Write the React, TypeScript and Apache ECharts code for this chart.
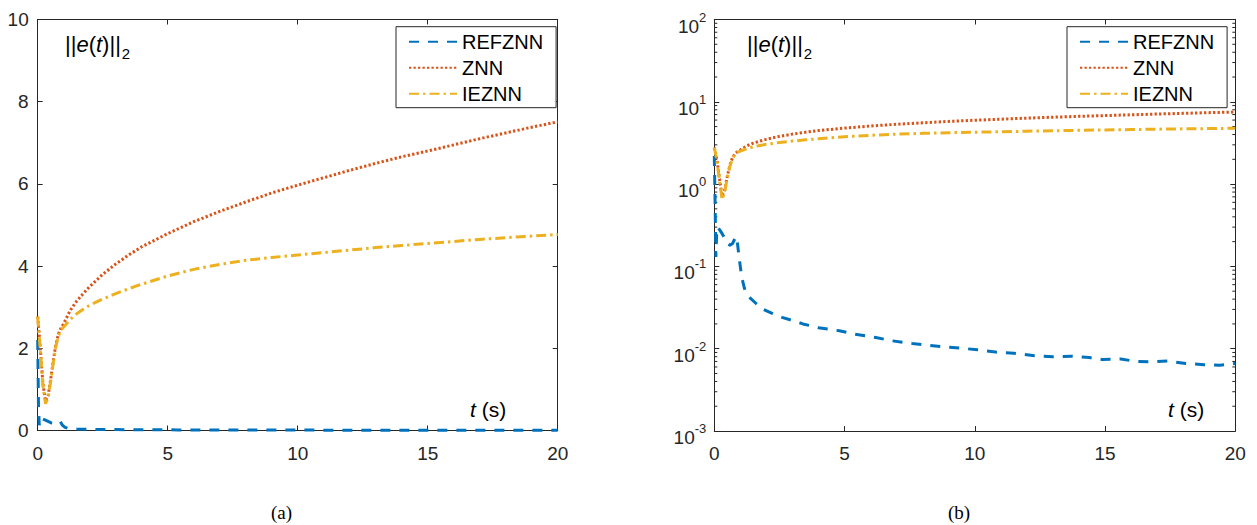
import React, { useEffect, useRef } from 'react';
import * as echarts from 'echarts';

// ---- data ----
const tMain = [0, 0.1, 0.2, 0.3, 0.4, 0.5, 0.6, 0.7, 0.8, 0.9, 1.0, 1.25, 1.5, 1.75, 2, 2.5, 3, 3.5, 4, 5, 6, 7, 8, 9, 10, 11, 12, 13, 14, 15, 16, 17, 18, 19, 20];
const znn = [2.77, 2.0, 1.15, 0.72, 0.85, 1.25, 1.7, 2.1, 2.35, 2.5, 2.6, 2.92, 3.15, 3.33, 3.5, 3.8, 4.05, 4.27, 4.47, 4.79, 5.08, 5.33, 5.56, 5.78, 5.97, 6.15, 6.33, 6.5, 6.66, 6.8, 6.95, 7.1, 7.24, 7.38, 7.51];
const ieznn = [2.77, 1.95, 1.1, 0.65, 0.8, 1.2, 1.65, 2.05, 2.3, 2.45, 2.52, 2.7, 2.84, 2.95, 3.05, 3.2, 3.33, 3.45, 3.56, 3.76, 3.92, 4.04, 4.14, 4.21, 4.27, 4.33, 4.39, 4.45, 4.5, 4.55, 4.6, 4.65, 4.69, 4.73, 4.77];
const tRef = [0, 0.03, 0.06, 0.1, 0.2, 0.3, 0.4, 0.5, 0.6, 0.7, 0.8, 0.86, 0.95, 1.05, 1.15, 1.25, 1.5, 1.8, 2.2, 2.6, 3.0, 3.4, 4.0, 4.8, 5.4, 6.2, 6.8, 7.6, 8.1, 8.7, 9.4, 10.1, 10.8, 11.5, 12.3, 13.0, 13.7, 14.4, 14.9, 15.6, 16.2, 16.8, 17.4, 18.1, 18.8, 19.4, 20];
const refznn = [2.2, 0.6, 0.13, 0.3, 0.28, 0.25, 0.22, 0.19, 0.18, 0.19, 0.22, 0.23, 0.13, 0.075, 0.055, 0.045, 0.038, 0.031, 0.027, 0.024, 0.022, 0.02, 0.018, 0.0165, 0.015, 0.0137, 0.0125, 0.0116, 0.0111, 0.0106, 0.0102, 0.0097, 0.0091, 0.0088, 0.0082, 0.008, 0.0081, 0.0078, 0.0074, 0.0075, 0.007, 0.0069, 0.0071, 0.0066, 0.0064, 0.0063, 0.0066];
const seriesNames = ['REFZNN', 'ZNN', 'IEZNN'];
const panelLabels = ['(a)', '(b)'];
const logDecades = [-3, -2, -1, 0, 1];
const minorMultipliers = [2, 3, 4, 5, 6, 7, 8, 9];
const minorTicks: number[] = [];
logDecades.forEach((k) => minorMultipliers.forEach((m) => minorTicks.push(Number((m * Math.pow(10, k)).toPrecision(3)))));

const FONT = "'Liberation Sans', Arial, Helvetica, sans-serif";
const SERIF = "'Liberation Serif', 'Times New Roman', serif";
const AX = '#262626';
const COLORS = ['#0072BD', '#D95319', '#EDB120'];
const DASHES: any[] = [[10, 9], [2.3, 2.2], [10, 4, 2.5, 4]];

const grids = [
  { left: 37.7, top: 19.5, width: 520, height: 411 },
  { left: 714.3, top: 19.5, width: 521, height: 411.5 },
];

function xAxis(gridIndex: number, position: string, showLabel: boolean) {
  return {
    type: 'value', gridIndex, position, min: 0, max: 20, interval: 5,
    axisLine: { show: true, onZero: false, lineStyle: { color: AX, width: 1 } },
    axisTick: { show: true, inside: true, length: 5, lineStyle: { color: AX, width: 1 } },
    axisLabel: { show: showLabel, margin: 13, color: AX, fontSize: 19, fontFamily: FONT },
    splitLine: { show: false },
  };
}

function yLin(position: string, showLabel: boolean) {
  return {
    type: 'value', gridIndex: 0, position, min: 0, max: 10, interval: 2,
    axisLine: { show: true, onZero: false, lineStyle: { color: AX, width: 1 } },
    axisTick: { show: true, inside: true, length: 5, lineStyle: { color: AX, width: 1 } },
    axisLabel: { show: showLabel, margin: 9, color: AX, fontSize: 19, fontFamily: FONT },
    splitLine: { show: false },
  };
}

function yLog(position: string, showLabel: boolean) {
  return {
    type: 'log', logBase: 10, gridIndex: 1, position, min: 0.001, max: 100, splitNumber: 5,
    axisLine: { show: true, onZero: false, lineStyle: { color: AX, width: 1 } },
    axisTick: { show: true, inside: true, length: 5, lineStyle: { color: AX, width: 1 } },
    axisLabel: {
      show: showLabel, margin: 8, color: AX, fontFamily: FONT,
      formatter: (v: number) => `{b|10}{s|${Math.round(Math.log10(v))}}`,
      rich: {
        b: { fontSize: 19, fontFamily: FONT, color: AX, lineHeight: 32, padding: [13, 0, 0, 0], verticalAlign: 'top' },
        s: { fontSize: 13, fontFamily: FONT, color: AX, lineHeight: 20, padding: [7, 0, 0, 0], verticalAlign: 'top' },
      },
    },
    splitLine: { show: false },
  };
}

function lineSeries(idx: number, gridIdx: number, ts: number[], vs: number[]) {
  return {
    type: 'line', name: seriesNames[idx], xAxisIndex: gridIdx * 2, yAxisIndex: gridIdx * 2,
    data: ts.map((t, i) => [t, vs[i]]), showSymbol: false, symbol: 'none',
    lineStyle: { color: COLORS[idx], width: 3, type: DASHES[idx] },
    itemStyle: { color: COLORS[idx] },
    z: 2 + idx,
  };
}

const richTitle = {
  n: { fontSize: 22, fontFamily: FONT, fill: '#000', verticalAlign: 'top' },
  i: { fontSize: 22, fontFamily: FONT, fontStyle: 'italic', fill: '#000', verticalAlign: 'top' },
  sub: { fontSize: 15, fontFamily: FONT, fill: '#000', padding: [13, 0, 0, 1], verticalAlign: 'top' },
};
const richT = {
  n: { fontSize: 21, fontFamily: FONT, fill: '#000', verticalAlign: 'top' },
  i: { fontSize: 21, fontFamily: FONT, fontStyle: 'italic', fill: '#000', verticalAlign: 'top' },
};

function normText(x: number, y: number) {
  return {
    type: 'text', x, y, z: 20,
    style: { text: '{n|||}{i|e}{n|(}{i|t}{n|)||}{sub|2}', rich: richTitle, align: 'left', verticalAlign: 'top', fontSize: 22, fontFamily: FONT },
  };
}
function tText(x: number, y: number) {
  return {
    type: 'text', x, y, z: 20,
    style: { text: '{i|t}{n| (s)}', rich: richT, align: 'left', verticalAlign: 'top', fontSize: 21, fontFamily: FONT },
  };
}
function panelText(cx: number, label: string) {
  return {
    type: 'text', x: cx, y: 512.5, z: 20,
    style: { text: label, align: 'center', verticalAlign: 'middle', fontSize: 19, fontFamily: SERIF, fill: '#000' },
  };
}

function legend(left: number) {
  return {
    data: seriesNames, orient: 'vertical', left, top: 26.7,
    padding: [5, 13, 4, 12], itemGap: 6, itemWidth: 48, itemHeight: 20,
    backgroundColor: '#fff', borderColor: AX, borderWidth: 1, borderRadius: 0,
    itemStyle: { opacity: 0, color: 'rgba(0,0,0,0)', borderWidth: 0 },
    textStyle: { fontSize: 20, fontFamily: FONT, color: '#000' },
    z: 10,
  };
}

export default function App() {
  const ref = useRef<HTMLDivElement>(null);
  useEffect(() => {
    if (!ref.current) return;
    const chart = echarts.init(ref.current, undefined, { renderer: 'svg' });
    const option: any = {
      animation: false,
      backgroundColor: '#fff',
      grid: grids,
      xAxis: [xAxis(0, 'bottom', true), xAxis(0, 'top', false), xAxis(1, 'bottom', true), xAxis(1, 'top', false)],
      yAxis: [yLin('left', true), yLin('right', false), yLog('left', true), yLog('right', false)],
      legend: [legend(396), legend(1067)],
      series: [
        lineSeries(0, 0, tRef, refznn),
        lineSeries(1, 0, tMain, znn),
        lineSeries(2, 0, tMain, ieznn),
        lineSeries(0, 1, tRef, refznn),
        lineSeries(1, 1, tMain, znn),
        lineSeries(2, 1, tMain, ieznn),
        {
          type: 'custom', xAxisIndex: 2, yAxisIndex: 2, silent: true, clip: false, z: 1,
          data: minorTicks.map((v) => [0, v]),
          renderItem: (params: any, api: any) => {
            const y = api.coord([0, api.value(1)])[1];
            const cs = params.coordSys;
            return {
              type: 'group',
              children: [
                { type: 'line', shape: { x1: cs.x, y1: y, x2: cs.x + 3, y2: y }, style: { stroke: AX, lineWidth: 1 } },
                { type: 'line', shape: { x1: cs.x + cs.width - 3, y1: y, x2: cs.x + cs.width, y2: y }, style: { stroke: AX, lineWidth: 1 } },
              ],
            };
          },
        },
      ],
      graphic: [
        normText(65, 33),
        normText(747, 33),
        tText(470, 399),
        tText(1168, 399),
        panelText(281.5, panelLabels[0]),
        panelText(959, panelLabels[1]),
      ],
    };
    chart.setOption(option);
    return () => chart.dispose();
  }, []);
  return <div ref={ref} style={{ position: 'fixed', left: 0, top: 0, width: 1257, height: 525, background: '#fff' }} />;
}
